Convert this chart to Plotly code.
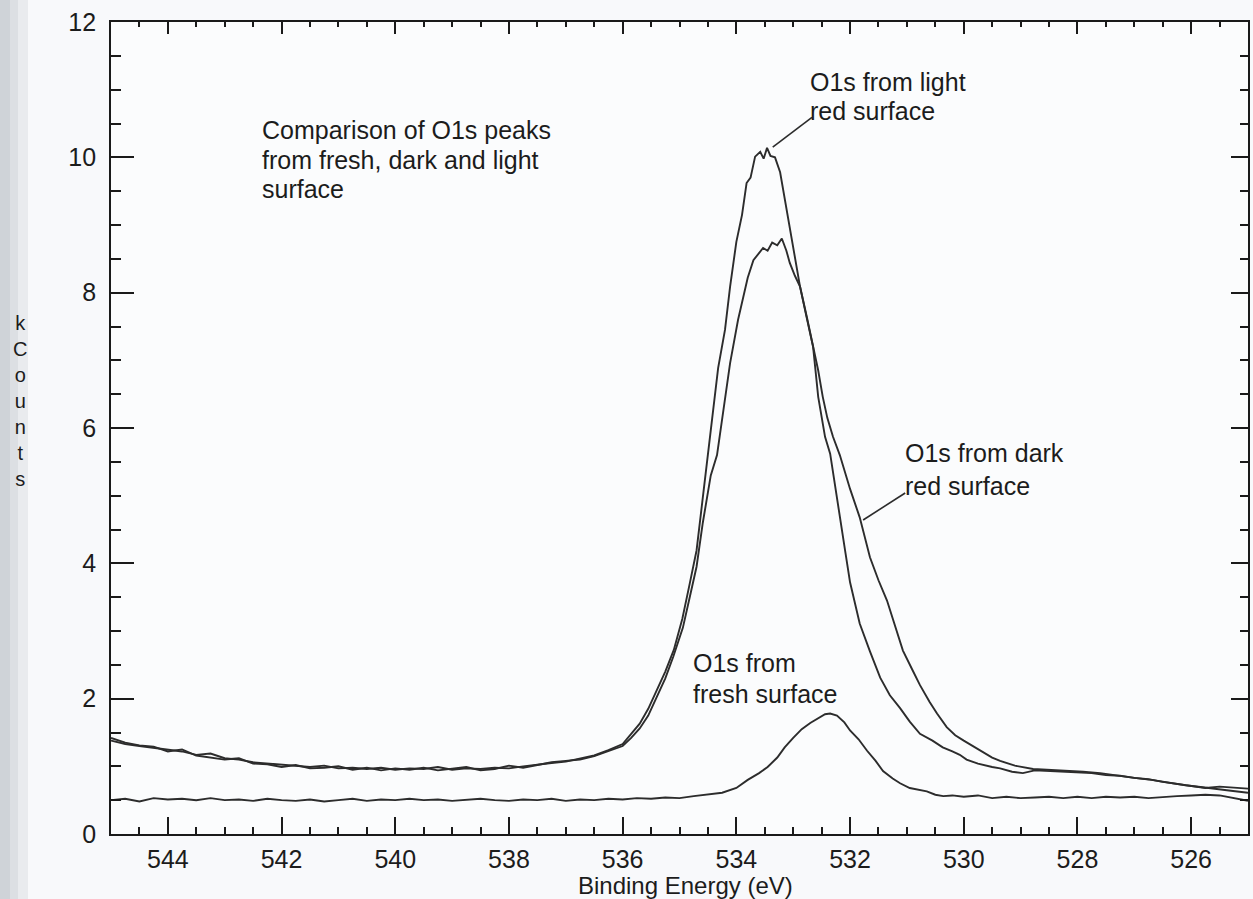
import plotly.graph_objects as go

# ---------------- data ----------------
# O1s from light red surface
light_be = [545.0, 544.75, 544.5, 544.25, 544.0, 543.75, 543.5, 543.25, 543.0, 542.75,
            542.5, 542.25, 542.0, 541.75, 541.5, 541.25, 541.0, 540.75, 540.5, 540.25,
            540.0, 539.75, 539.5, 539.25, 539.0, 538.75, 538.5, 538.25, 538.0, 537.75,
            537.5, 537.25, 537.0, 536.75, 536.5, 536.25, 536.0, 535.85, 535.7, 535.55,
            535.4, 535.25, 535.1, 534.95, 534.82, 534.7, 534.6, 534.5, 534.4, 534.32,
            534.2, 534.11, 534.0, 533.9, 533.82, 533.75, 533.67, 533.58, 533.52, 533.46,
            533.4, 533.32, 533.23, 533.11, 533.0, 532.88, 532.76, 532.65, 532.56, 532.48,
            532.4, 532.3, 532.18, 532.0, 531.83, 531.65, 531.5, 531.35, 531.2, 531.07,
            530.9, 530.77, 530.6, 530.47, 530.3, 530.15, 530.0, 529.75, 529.5, 529.36,
            529.1, 528.78, 528.5, 528.2, 527.9, 527.6, 527.3, 527.0, 526.7, 526.43,
            526.1, 525.8, 525.55, 525.3, 525.0]
light_kc = [1.38, 1.33, 1.30, 1.27, 1.24, 1.22, 1.17, 1.19, 1.12, 1.10,
            1.06, 1.04, 1.02, 1.00, 0.99, 1.01, 0.97, 0.98, 0.96, 0.98,
            0.95, 0.97, 0.96, 0.99, 0.95, 0.97, 0.96, 0.98, 0.97, 1.00,
            1.03, 1.05, 1.07, 1.11, 1.16, 1.24, 1.33, 1.48, 1.63, 1.85,
            2.12, 2.40, 2.72, 3.18, 3.70, 4.19, 4.90, 5.60, 6.25, 6.89,
            7.45, 8.09, 8.75, 9.15, 9.62, 9.70, 10.01, 10.08, 9.98, 10.14,
            10.02, 10.00, 9.78, 9.19, 8.68, 8.09, 7.64, 7.20, 6.85, 6.46,
            6.15, 5.87, 5.60, 5.10, 4.68, 4.09, 3.75, 3.45, 3.05, 2.71,
            2.42, 2.20, 1.95, 1.78, 1.58, 1.46, 1.38, 1.25, 1.13, 1.08,
            1.01, 0.96, 0.95, 0.93, 0.92, 0.90, 0.86, 0.83, 0.80, 0.76,
            0.72, 0.69, 0.67, 0.64, 0.61]

# O1s from dark red surface
dark_be = [545.0, 544.75, 544.5, 544.25, 544.0, 543.75, 543.5, 543.25, 543.0, 542.75,
           542.5, 542.25, 542.0, 541.75, 541.5, 541.25, 541.0, 540.75, 540.5, 540.25,
           540.0, 539.75, 539.5, 539.25, 539.0, 538.75, 538.5, 538.25, 538.0, 537.75,
           537.5, 537.25, 537.0, 536.75, 536.5, 536.25, 536.0, 535.85, 535.7, 535.55,
           535.4, 535.25, 535.11, 534.94, 534.82, 534.7, 534.59, 534.45, 534.34, 534.22,
           534.11, 533.97, 533.88, 533.8, 533.7, 533.6, 533.53, 533.45, 533.37, 533.28,
           533.2, 533.12, 533.06, 532.97, 532.88, 532.76, 532.65, 532.56, 532.44, 532.35,
           532.25, 532.18, 532.08, 532.0, 531.9, 531.83, 531.65, 531.47, 531.3, 531.12,
           530.95, 530.77, 530.55, 530.37, 530.2, 530.07, 529.95, 529.75, 529.5, 529.36,
           529.15, 528.96, 528.75, 528.5, 528.25, 528.0, 527.75, 527.5, 527.25, 527.0,
           526.75, 526.5, 526.25, 526.0, 525.75, 525.5, 525.25, 525.0]
dark_kc = [1.42, 1.35, 1.31, 1.29, 1.22, 1.25, 1.16, 1.13, 1.10, 1.12,
           1.04, 1.03, 0.99, 1.02, 0.97, 0.98, 1.00, 0.95, 0.98, 0.94,
           0.97, 0.95, 0.98, 0.94, 0.97, 0.99, 0.94, 0.96, 1.01, 0.98,
           1.02, 1.06, 1.08, 1.10, 1.15, 1.22, 1.30, 1.42, 1.56, 1.75,
           2.02, 2.30, 2.62, 3.05, 3.50, 3.95, 4.60, 5.30, 5.60, 6.30,
           6.96, 7.60, 7.95, 8.22, 8.48, 8.58, 8.66, 8.62, 8.74, 8.70,
           8.80, 8.62, 8.44, 8.25, 8.09, 7.62, 7.20, 6.46, 5.87, 5.62,
           5.10, 4.68, 4.15, 3.72, 3.35, 3.11, 2.70, 2.31, 2.05, 1.86,
           1.66, 1.48, 1.38, 1.28, 1.22, 1.17, 1.10, 1.04, 0.99, 0.97,
           0.92, 0.90, 0.94, 0.93, 0.92, 0.91, 0.90, 0.87, 0.86, 0.83,
           0.81, 0.77, 0.74, 0.70, 0.68, 0.70, 0.68, 0.67]

# O1s from fresh surface
fresh_be = [545.0, 544.75, 544.5, 544.25, 544.0, 543.75, 543.5, 543.25, 543.0, 542.75,
            542.5, 542.25, 542.0, 541.75, 541.5, 541.25, 541.0, 540.75, 540.5, 540.25,
            540.0, 539.75, 539.5, 539.25, 539.0, 538.75, 538.5, 538.25, 538.0, 537.75,
            537.5, 537.25, 537.0, 536.75, 536.5, 536.25, 536.0, 535.75, 535.5, 535.25,
            535.0, 534.75, 534.5, 534.25, 534.0, 533.8, 533.6, 533.45, 533.28, 533.15,
            533.0, 532.85, 532.7, 532.55, 532.44, 532.35, 532.23, 532.1, 532.0, 531.85,
            531.7, 531.55, 531.42, 531.25, 531.12, 530.95, 530.8, 530.65, 530.5, 530.36,
            530.2, 530.0, 529.75, 529.5, 529.25, 529.0, 528.75, 528.5, 528.25, 528.0,
            527.75, 527.5, 527.25, 527.0, 526.75, 526.5, 526.25, 526.0, 525.75, 525.5,
            525.25, 525.0]
fresh_kc = [0.50, 0.52, 0.48, 0.53, 0.51, 0.52, 0.50, 0.53, 0.50, 0.51,
            0.49, 0.52, 0.50, 0.49, 0.51, 0.48, 0.50, 0.52, 0.49, 0.51,
            0.50, 0.52, 0.50, 0.51, 0.49, 0.51, 0.52, 0.50, 0.49, 0.51,
            0.50, 0.52, 0.49, 0.51, 0.50, 0.52, 0.51, 0.53, 0.52, 0.54,
            0.53, 0.56, 0.58, 0.61, 0.68, 0.80, 0.90, 0.99, 1.13, 1.28,
            1.42, 1.55, 1.64, 1.71, 1.77, 1.78, 1.75, 1.65, 1.53, 1.40,
            1.23, 1.08, 0.93, 0.82, 0.75, 0.68, 0.66, 0.63, 0.58, 0.56,
            0.57, 0.55, 0.57, 0.53, 0.55, 0.53, 0.54, 0.55, 0.53, 0.55,
            0.53, 0.55, 0.54, 0.55, 0.53, 0.55, 0.56, 0.57, 0.58, 0.57,
            0.53, 0.49]

x_ticks = [544, 542, 540, 538, 536, 534, 532, 530, 528, 526]
y_ticks = [0, 2, 4, 6, 8, 10, 12]

# text blocks: (left binding energy, list of (kCounts at line centre, text))
notes = [
    (542.38, [(10.40, "Comparison of O1s peaks"),
              (9.96, "from fresh, dark and light"),
              (9.53, "surface")]),
    (532.74, [(11.11, "O1s from light"), (10.68, "red surface")]),
    (531.07, [(5.63, "O1s from dark"), (5.15, "red surface")]),
    (534.79, [(2.52, "O1s from"), (2.07, "fresh surface")]),
]

# ---------------- figure ----------------
LINE = "#2c2c2c"
TXT = "#1c1c1c"
FONT = "Liberation Sans, Arial, sans-serif"

fig = go.Figure()
for be, kc, name in [(light_be, light_kc, "O1s from light red surface"),
                     (dark_be, dark_kc, "O1s from dark red surface"),
                     (fresh_be, fresh_kc, "O1s from fresh surface")]:
    fig.add_trace(go.Scatter(x=be, y=kc, mode="lines", name=name,
                             line=dict(color=LINE, width=1.9), showlegend=False))
# helper trace so the mirrored (top / right) axes are drawn
fig.add_trace(go.Scatter(x=[], y=[], xaxis="x2", yaxis="y2", showlegend=False))

common = dict(showline=True, linecolor="#1a1a1a", linewidth=1.7, showgrid=False,
              zeroline=False, ticks="inside", tickcolor="#1a1a1a", tickwidth=1.7)

fig.update_layout(
    width=1253, height=899,
    margin=dict(l=111, r=5, t=22, b=65),
    paper_bgcolor="#f8f9fb", plot_bgcolor="#fbfcfd",
    font=dict(family=FONT, color=TXT, size=25),
    xaxis=dict(range=[545, 525], tickvals=x_ticks, ticklen=17,
               minor=dict(dtick=0.5, tick0=525, ticklen=7, ticks="inside",
                          tickcolor="#1a1a1a", tickwidth=1.5),
               tickfont=dict(size=25, color=TXT), ticklabelstandoff=2, **common),
    yaxis=dict(range=[0, 12], tickvals=y_ticks, ticklen=23,
               minor=dict(dtick=0.5, tick0=0, ticklen=10, ticks="inside",
                          tickcolor="#1a1a1a", tickwidth=1.5),
               tickfont=dict(size=25, color=TXT), ticklabelstandoff=8, **common),
    xaxis2=dict(range=[545, 525], overlaying="x", side="top", tickvals=x_ticks,
                ticklen=12, showticklabels=False,
                minor=dict(dtick=0.5, tick0=525, ticklen=5, ticks="inside",
                           tickcolor="#1a1a1a", tickwidth=1.5), **common),
    yaxis2=dict(range=[0, 12], overlaying="y", side="right", tickvals=y_ticks,
                ticklen=17, showticklabels=False,
                minor=dict(dtick=0.5, tick0=0, ticklen=8, ticks="inside",
                           tickcolor="#1a1a1a", tickwidth=1.5), **common),
)

# scanned page edge on the far left
for x0, x1, col in [(0, 10, "#cfd3d8"), (10, 18, "#dcdfe3"), (18, 28, "#e9ebee")]:
    fig.add_shape(type="rect", xref="paper", yref="paper",
                  x0=(x0 - 111) / 1137, x1=(x1 - 111) / 1137, y0=-0.1, y1=1.1,
                  fillcolor=col, line_width=0, layer="below")

for xl, lines in notes:
    for yv, txt in lines:
        fig.add_annotation(x=xl, y=yv, text=txt, showarrow=False, xanchor="left",
                           yanchor="middle", align="left",
                           font=dict(family=FONT, size=25, color=TXT))

# leader lines
fig.add_shape(type="line", x0=533.36, y0=10.15, x1=532.67, y1=10.59,
              line=dict(color=LINE, width=1.6))
fig.add_shape(type="line", x0=531.77, y0=4.64, x1=531.03, y1=5.04,
              line=dict(color=LINE, width=1.6))

# axis titles
fig.add_annotation(xref="paper", yref="paper", x=(685 - 111) / 1137, y=(834 - 885) / 812,
                   text="Binding Energy (eV)", showarrow=False, xanchor="center",
                   yanchor="middle", font=dict(family=FONT, size=24, color=TXT))
fig.add_annotation(xref="paper", yref="paper", x=(20 - 111) / 1137, y=(834 - 401) / 812,
                   text="k<br>C<br>o<br>u<br>n<br>t<br>s", showarrow=False,
                   xanchor="center", yanchor="middle", align="center",
                   font=dict(family=FONT, size=20, color=TXT))

fig.write_html("out.html")
